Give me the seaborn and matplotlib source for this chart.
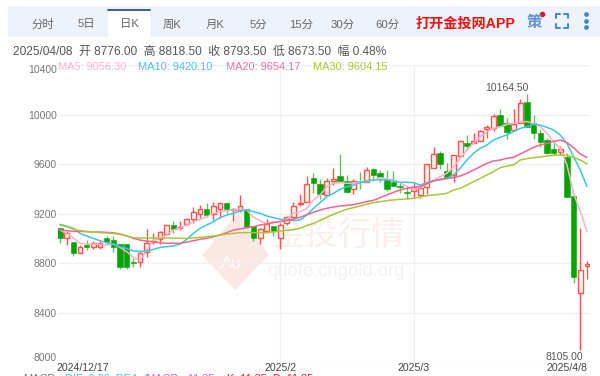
import numpy as np
import pandas as pd
import matplotlib.pyplot as plt
from matplotlib.patches import Polygon, Rectangle
from matplotlib.lines import Line2D
import seaborn as sns

sns.set_theme(style="white")
plt.rcParams['font.family'] = ['Liberation Sans', 'Noto Sans CJK SC', 'DejaVu Sans']

# daily candles
opens = [9083, 9007, 8975, 8886, 8948, 8935, 8935, 9005, 8988, 8956,
         8956, 8808, 8814, 8894, 8975, 8994, 9034, 9110, 9088, 9115,
         9155, 9201, 9236, 9195, 9241, 9284, 9233, 9231, 9236, 9102,
         9008, 9062, 9102, 9008, 9123, 9172, 9279, 9295, 9492, 9441,
         9355, 9467, 9505, 9462, 9398, 9459, 9459, 9564, 9527, 9478,
         9459, 9424, 9376, 9384, 9350, 9420, 9567, 9688, 9548, 9513,
         9669, 9774, 9768, 9790, 9884, 9895, 10000, 9935, 9876, 9935,
         10099, 9930, 9854, 9795, 9725, 9701, 9655, 9344, 8558, 8776]
closes = [9002, 9048, 8886, 8935, 8935, 8967, 8967, 8975, 8935, 8773,
          8773, 8800, 8886, 8962, 8983, 9050, 9107, 9077, 9093, 9155,
          9214, 9238, 9190, 9263, 9284, 9241, 9238, 9263, 9091, 9002,
          9075, 9115, 9062, 9107, 9172, 9263, 9285, 9441, 9451, 9360,
          9467, 9478, 9462, 9379, 9467, 9454, 9553, 9516, 9500, 9398,
          9427, 9419, 9365, 9414, 9412, 9599, 9682, 9602, 9494, 9674,
          9790, 9749, 9787, 9868, 9903, 9991, 9908, 9857, 9924, 10091,
          9903, 9849, 9782, 9693, 9693, 9720, 9333, 8687, 8746, 8793.5]
highs = [9083, 9064, 8975, 8946, 8988, 8983, 8983, 9021, 9021, 8956,
         8956, 8841, 8908, 9075, 9042, 9061, 9110, 9142, 9142, 9169,
         9254, 9271, 9284, 9292, 9290, 9284, 9244, 9352, 9236, 9102,
         9083, 9158, 9102, 9123, 9183, 9293, 9360, 9505, 9532, 9478,
         9486, 9567, 9682, 9513, 9478, 9540, 9575, 9572, 9553, 9553,
         9548, 9459, 9419, 9446, 9432, 9602, 9736, 9706, 9608, 9674,
         9795, 9835, 9849, 9876, 9916, 10001, 10042, 9970, 10042, 10123,
         10164.5, 9997, 9881, 9809, 9782, 9747, 9688, 9344, 9082, 8818.5]
lows = [8967, 8948, 8860, 8881, 8908, 8919, 8919, 8956, 8894, 8757,
        8757, 8768, 8773, 8849, 8956, 8956, 9029, 9048, 9069, 9110,
        9128, 9163, 9177, 9150, 9163, 9204, 9144, 9217, 9083, 8984,
        8957, 9043, 9021, 8914, 9110, 9164, 9263, 9293, 9371, 9317,
        9349, 9432, 9459, 9371, 9360, 9398, 9454, 9467, 9459, 9387,
        9424, 9365, 9320, 9325, 9325, 9360, 9567, 9559, 9478, 9459,
        9653, 9715, 9768, 9787, 9809, 9868, 9897, 9800, 9870, 9930,
        9903, 9800, 9741, 9682, 9674, 9674, 9333, 8644, 8105, 8673.5]

ma5 = [9069, 9042, 9007, 8962, 8956, 8956, 8954, 8948, 8956, 8929,
       8895, 8849, 8822, 8908, 8988, 9002, 9029, 9069, 9083, 9110,
       9136, 9155, 9177, 9204, 9217, 9225, 9230, 9236, 9231, 9172,
       9145, 9118, 9137, 9137, 9156, 9204, 9217, 9244, 9312, 9352,
       9419, 9446, 9451, 9446, 9446, 9459, 9459, 9473, 9492, 9481,
       9473, 9451, 9419, 9392, 9412, 9440, 9473, 9499, 9526, 9580,
       9647, 9715, 9768, 9822, 9862, 9889, 9903, 9921, 9930, 9943,
       9943, 9930, 9903, 9849, 9782, 9728, 9594, 9365, 9220, 9056.3]
ma10 = [9115, 9101, 9083, 9042, 9021, 9002, 8983, 8967, 8956, 8935,
        8921, 8900, 8897, 8900, 8913, 8929, 8935, 8940, 8956, 8994,
        9042, 9083, 9110, 9136, 9169, 9190, 9204, 9223, 9231, 9217,
        9204, 9182, 9169, 9156, 9150, 9145, 9150, 9191, 9244, 9290,
        9338, 9365, 9398, 9419, 9432, 9451, 9467, 9473, 9473, 9473,
        9465, 9454, 9454, 9451, 9432, 9451, 9467, 9473, 9486, 9513,
        9567, 9634, 9688, 9728, 9755, 9795, 9817, 9835, 9862, 9889,
        9903, 9921, 9916, 9897, 9876, 9835, 9768, 9661, 9553, 9420.1]
ma20 = [9069, 9064, 9058, 9058, 9056, 9053, 9053, 9050, 9048, 9037,
        9021, 9002, 8988, 8980, 8975, 8967, 8962, 8962, 8962, 8972,
        8983, 8994, 9002, 9015, 9029, 9048, 9069, 9078, 9088, 9096,
        9110, 9118, 9129, 9137, 9147, 9156, 9172, 9193, 9212, 9231,
        9244, 9255, 9263, 9268, 9274, 9285, 9298, 9309, 9330, 9352,
        9373, 9392, 9406, 9416, 9419, 9443, 9464, 9478, 9486, 9491,
        9505, 9526, 9553, 9580, 9607, 9626, 9634, 9647, 9655, 9682,
        9709, 9736, 9755, 9768, 9784, 9795, 9774, 9733, 9682, 9654.17]
ma30 = [9109, 9096, 9075, 9064, 9058, 9053, 9048, 9045, 9042, 9034,
        9021, 9007, 9005, 9005, 9005, 9005, 9005, 9005, 9002, 9002,
        9005, 9010, 9015, 9021, 9029, 9037, 9042, 9048, 9048, 9048,
        9048, 9048, 9053, 9061, 9067, 9072, 9083, 9104, 9123, 9147,
        9172, 9196, 9217, 9236, 9250, 9263, 9277, 9290, 9298, 9306,
        9312, 9317, 9320, 9325, 9335, 9346, 9352, 9357, 9365, 9392,
        9405, 9432, 9459, 9486, 9513, 9540, 9572, 9585, 9594, 9634,
        9645, 9653, 9658, 9666, 9672, 9674, 9672, 9655, 9634, 9604.15]

y_ticks = [8000, 8400, 8800, 9200, 9600, 10000, 10400]
tab_labels = ['分时', '5日', '日K', '周K', '月K', '5分', '15分', '30分', '60分']
date_labels = ['2024/12/17', '2025/2', '2025/3', '2025/4/8']

RED = '#ff5548'
GREEN = '#07a307'
GREEN_WICK = '#62c262'
W, H = 600, 376


def fx(x):
    return x / W


def fy(y):
    return 1 - y / H


fig = plt.figure(figsize=(6, 3.76), dpi=100)

# header strip
fig.patches.append(Rectangle((fx(8), fy(37)), fx(592), 31 / H, transform=fig.transFigure,
                             facecolor='#eef3fb', edgecolor='none'))
fig.patches.append(Rectangle((fx(108), fy(37)), fx(42), 27 / H, transform=fig.transFigure,
                             facecolor='white', edgecolor='none'))
fig.add_artist(Line2D([fx(108), fx(150)], [fy(10), fy(10)], color='#3a5ba0', lw=1.4))
tab_x = [43, 86, 129, 172, 215, 258, 301, 343, 387]
for lab, x in zip(tab_labels, tab_x):
    fig.text(fx(x), fy(24.5), lab, ha='center', va='center', fontsize=8.2, color='#666666')
fig.text(fx(416), fy(23.5), '打开金投网APP', ha='left', va='center', fontsize=10.2,
         color='#fb0d0d', fontweight='bold')
fig.text(fx(534), fy(23), '策', ha='center', va='center', fontsize=11, color='#5f93d6',
         fontweight='bold')
fig.add_artist(Line2D([fx(542)], [fy(14)], marker='o', ms=3, color='#e8102a'))
# fullscreen corners
for cx, cy, dx, dy in [(556, 14, 1, 1), (568, 14, -1, 1), (556, 28, 1, -1), (568, 28, -1, -1)]:
    fig.add_artist(Line2D([fx(cx + dx * 4), fx(cx), fx(cx)], [fy(cy), fy(cy), fy(cy + dy * 4)],
                          color='#3f86cf', lw=1.4))
for dot_y in [14, 20.5, 27]:
    fig.add_artist(Line2D([fx(586)], [fy(dot_y)], marker='o', ms=2.4, color='#3f86cf'))

# info rows
fig.text(fx(13), fy(52), '2025/04/08  开 8776.00  高 8818.50  收 8793.50  低 8673.50  幅 0.48%',
         ha='left', va='center', fontsize=8.6, color='#555555')
fig.text(fx(58), fy(67.5), 'MA5: 9056.30', ha='left', va='center', fontsize=7.9, color='#ffb1cb')
fig.text(fx(138), fy(67.5), 'MA10: 9420.10', ha='left', va='center', fontsize=7.9, color='#3fc6e4')
fig.text(fx(226), fy(67.5), 'MA20: 9654.17', ha='left', va='center', fontsize=7.9, color='#ff6a9c')
fig.text(fx(313), fy(67.5), 'MA30: 9604.15', ha='left', va='center', fontsize=7.9, color='#a6c83a')

# main panel, 6.67 px per candle with the first one at x=60
ax = fig.add_axes([fx(58), fy(362.6), fx(532), 297.6 / H])
step = 6.67
ax.set_xlim((58 - 60) / step, (590 - 60) / step)
ax.set_ylim(8000, 10400)
ax.patch.set_alpha(0)
for s in ax.spines.values():
    s.set_visible(False)

ax.set_yticks(y_ticks)
ax.set_yticklabels([str(v) for v in y_ticks], fontsize=7.5, color='#777777')
ax.tick_params(axis='y', length=0, pad=1)
ax.get_yticklabels()[0].set_va('bottom')
ax.get_yticklabels()[-1].set_va('top')
ax.set_xticks([3.4, 33, 53, 79])
ax.set_xticklabels(date_labels, fontsize=7.6, color='#444444')
ax.tick_params(axis='x', length=0, pad=0)
ax.get_xticklabels()[3].set_ha('right')
ax.get_xticklabels()[3].set_x(79.4)

for v in y_ticks:
    ax.axhline(v, color='#f0f0f0', lw=1, zorder=0)
for v in [33, 53]:
    ax.axvline(v, color='#f0f0f0', lw=1, zorder=0)

# watermark
logo = Polygon([(fx(238), fy(213)), (fx(269), fy(255)), (fx(235), fy(290)), (fx(202), fy(255))],
               closed=True, transform=fig.transFigure, facecolor='#fbe8e4', edgecolor='none',
               zorder=-1)
fig.patches.append(logo)
fig.text(fx(231), fy(263), 'Au', ha='center', va='center', fontsize=12, color='white', zorder=-1)
fig.text(fx(338), fy(236), '金投行情', ha='center', va='center', fontsize=24,
         color='#fbeeeb', zorder=-1)
fig.text(fx(336), fy(272), 'quote.cngold.org', ha='center', va='center', fontsize=13.3,
         color='#f2f2f2', zorder=-1)

# candles
x = np.arange(len(closes))
o = np.array(opens, dtype=float)
c = np.array(closes, dtype=float)
up = c >= o
ax.vlines(x[up], np.array(lows)[up], np.array(highs)[up], color=RED, lw=1, zorder=2)
ax.vlines(x[~up], np.array(lows)[~up], np.array(highs)[~up], color=GREEN_WICK, lw=1, zorder=2)
body_h = np.maximum(np.abs(c - o), 8)
ax.bar(x[up], body_h[up], bottom=np.minimum(o, c)[up], width=0.72, facecolor='#fff3f1',
       edgecolor=RED, linewidth=1, zorder=3)
ax.bar(x[~up], body_h[~up], bottom=np.minimum(o, c)[~up], width=0.82, facecolor=GREEN,
       edgecolor=GREEN, linewidth=0.4, zorder=3)

# moving averages
df = pd.DataFrame({'i': np.tile(x, 4),
                   'value': ma5 + ma10 + ma20 + ma30,
                   'ma': ['MA5'] * 80 + ['MA10'] * 80 + ['MA20'] * 80 + ['MA30'] * 80})
sns.lineplot(data=df, x='i', y='value', hue='ma', ax=ax, legend=False, errorbar=None,
             palette={'MA5': '#ffb1cb', 'MA10': '#3fc6e4', 'MA20': '#f5648f', 'MA30': '#a6c83a'},
             linewidth=1.1, zorder=4)
ax.set_xlabel('')
ax.set_ylabel('')
ax.set_xlim((58 - 60) / step, (590 - 60) / step)
ax.set_ylim(8000, 10400)

ax.text(67, 10164.5 + 10, '10164.50', ha='center', va='bottom', fontsize=7.5,
        color='#555555', zorder=5)
ax.text(78.4, 8105 - 20, '8105.00', ha='right', va='top', fontsize=7.5, color='#555555', zorder=5)

# next panel's header, cut off by the bottom edge
fig.text(fx(23), fy(374), 'MACD', ha='left', va='top', fontsize=7.9, color='#777777')
fig.text(fx(65), fy(374), 'DIF: 0.00  DEA: 0', ha='left', va='top', fontsize=7.9, color='#3fc6e4')
fig.text(fx(146), fy(374), 'MACD: -11.35', ha='left', va='top', fontsize=7.9, color='#d060d8')
fig.text(fx(227), fy(374), 'K: 11.35  D: 11.35', ha='left', va='top', fontsize=7.9, color='#f01818')

fig.savefig('out.png', dpi=100)
